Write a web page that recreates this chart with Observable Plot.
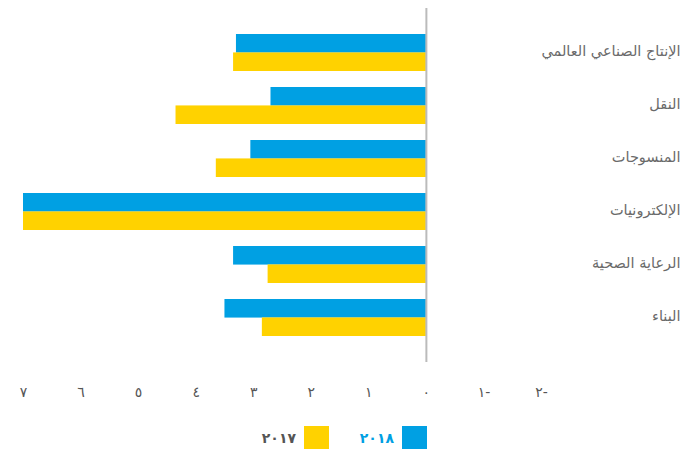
<!DOCTYPE html>
<html><head><meta charset="utf-8">
<script src="https://cdn.jsdelivr.net/npm/d3@7"></script>
<script src="https://cdn.jsdelivr.net/npm/@observablehq/plot@0.6"></script>
<style>
body{margin:0;background:#fff;font-family:"DejaVu Sans",sans-serif;}
#wrap{position:relative;width:690px;height:453px;}
#legend{position:absolute;top:426px;left:0;width:690px;height:23px;}
.item{position:absolute;top:0;height:23px;display:flex;align-items:center;}
.sw{width:25px;height:23px;}
.lbl{font-size:14px;font-weight:bold;margin-right:8px;}
</style></head>
<body><div id="wrap"><div id="chart"></div><div id="legend"></div></div>
<script>
const categories = ["الإنتاج الصناعي العالمي","النقل","المنسوجات","الإلكترونيات","الرعاية الصحية","البناء"];
const values2018 = [3.3, 2.7, 3.05, 7.0, 3.35, 3.5];
const values2017 = [3.35, 4.35, 3.65, 7.0, 2.75, 2.85];
const seriesNames = ["٢٠١٨","٢٠١٧"];
const seriesColors = ["#00A0E3","#FFD200"];
const xTicks = [-2,-1,0,1,2,3,4,5,6,7];

const digits = "٠١٢٣٤٥٦٧٨٩";
const toAr = n => String(Math.abs(n)).split("").map(c => digits[+c] ?? c).join("");
const fmt = n => n < 0 ? "\u200F-" + toAr(n) : toAr(n);

const H = 410, mt = 8, mb = 48, pIn = 0.31, pOut = 0.47;
const step = (H - mt - mb) / (categories.length - pIn + 2 * pOut);
const half = step * (1 - pIn) / 2;

const d18 = categories.map((c, i) => ({cat: c, v: values2018[i]}));
const d17 = categories.map((c, i) => ({cat: c, v: values2017[i]}));

const plot = Plot.plot({
  width: 690, height: H,
  marginTop: mt, marginBottom: mb, marginLeft: 23, marginRight: 149,
  style: {fontFamily: "'DejaVu Sans', sans-serif", fontSize: "13px", background: "#fff"},
  x: {domain: [-2, 7], reverse: true},
  y: {domain: categories, paddingInner: pIn, paddingOuter: pOut},
  marks: [
    Plot.barX(d18, {x: "v", y: "cat", fill: seriesColors[0], insetBottom: half}),
    Plot.barX(d17, {x: "v", y: "cat", fill: seriesColors[1], insetTop: half}),
    Plot.ruleX([0], {stroke: "#bbb", strokeWidth: 2}),
    Plot.axisX({ticks: xTicks, tickFormat: fmt, tickSize: 0, tickPadding: 25, color: "#555", fontSize: 14, label: null}),
    Plot.axisY({anchor: "right", tickSize: 0, tickPadding: 139, textAnchor: "end", color: "#6a6a6a", fontSize: 14.5, dy: -2, label: null})
  ]
});
document.getElementById("chart").appendChild(plot);

const legend = document.getElementById("legend");
const items = [
  {name: seriesNames[0], color: seriesColors[0], text: seriesColors[0], right: 690 - 427},
  {name: seriesNames[1], color: seriesColors[1], text: "#555", right: 690 - 329}
];
items.forEach(it => {
  const d = document.createElement("div");
  d.className = "item";
  d.style.right = it.right + "px";
  const l = document.createElement("span");
  l.className = "lbl"; l.textContent = it.name; l.style.color = it.text;
  const s = document.createElement("span");
  s.className = "sw"; s.style.background = it.color;
  d.appendChild(l); d.appendChild(s);
  legend.appendChild(d);
});
</script></body></html>
